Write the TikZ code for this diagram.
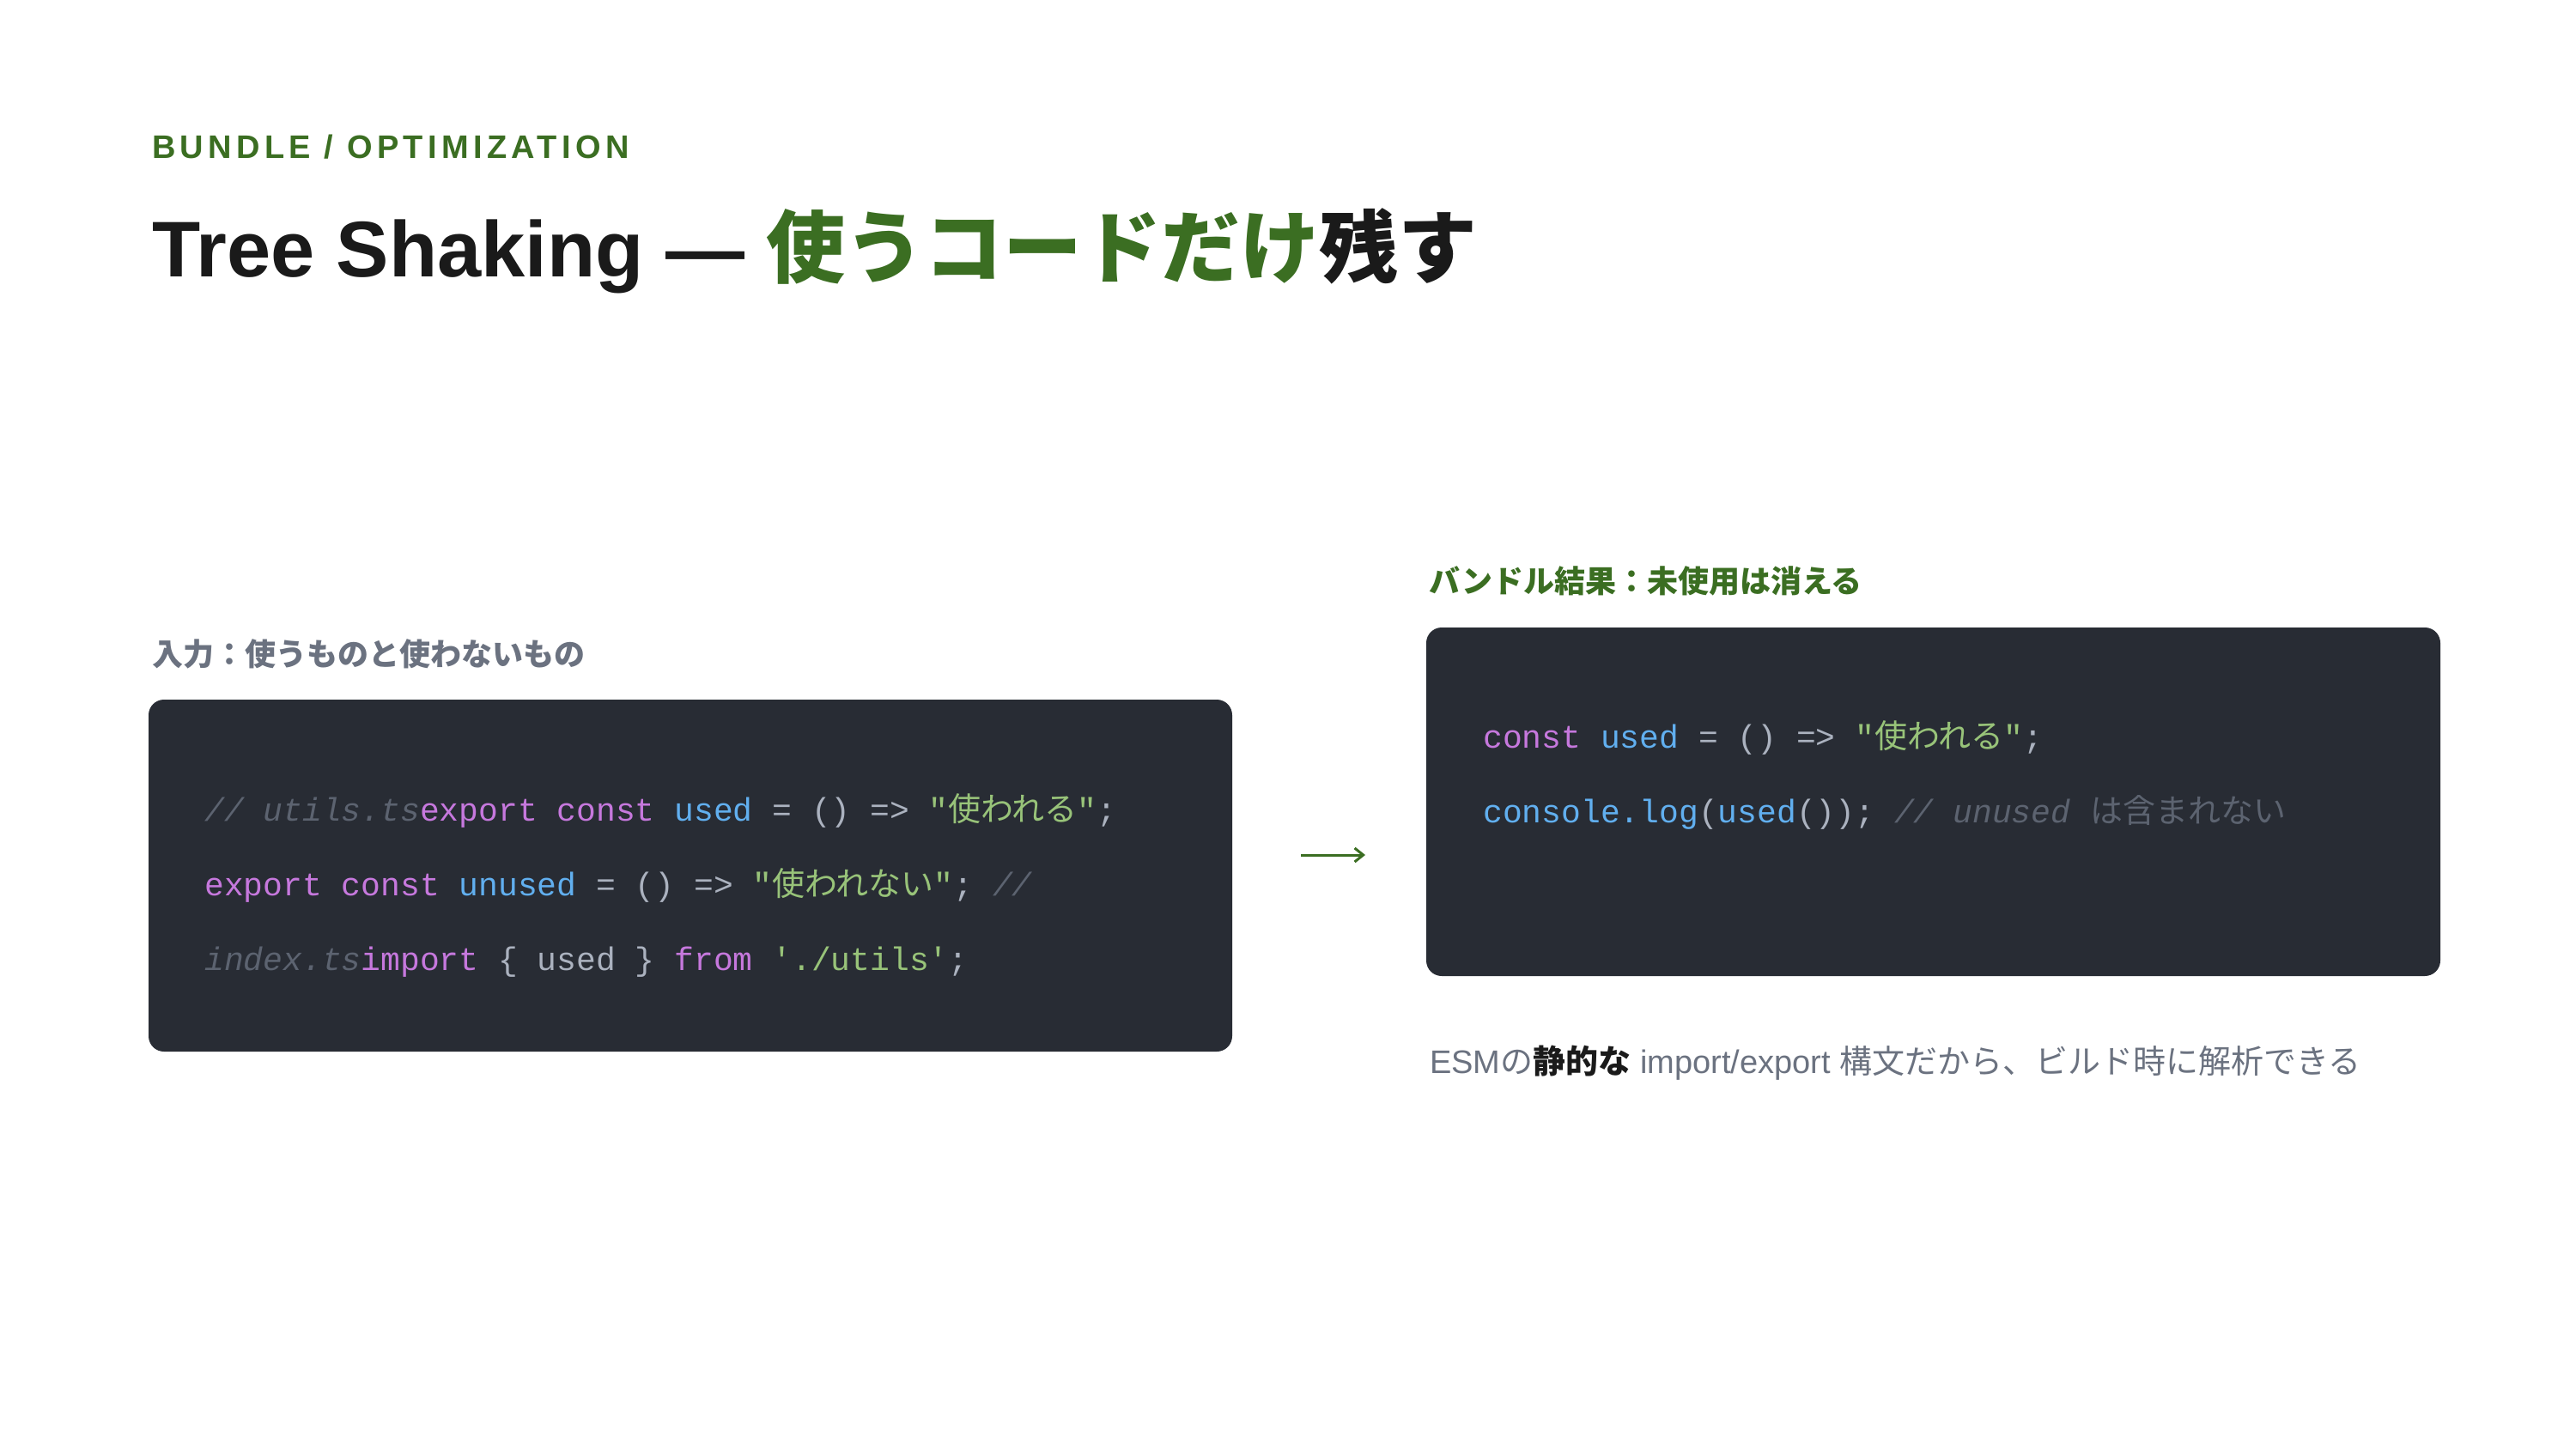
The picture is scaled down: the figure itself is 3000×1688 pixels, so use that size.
\documentclass[tikz,border=0pt]{standalone}
\usepackage{fontspec}
\setmainfont{Liberation Sans}
\newfontfamily\cjk{Noto Sans CJK JP}
\newfontfamily\cjkb{Noto Sans CJK JP}[FakeBold=0]
\newfontfamily\mono{Liberation Mono}
\usetikzlibrary{arrows.meta}
\definecolor{bg}{HTML}{282C34}
\definecolor{kw}{HTML}{C678DD}
\definecolor{fn}{HTML}{61AFEF}
\definecolor{st}{HTML}{98C379}
\definecolor{cm}{HTML}{5C6370}
\definecolor{pl}{HTML}{ABB2BF}
\definecolor{acc}{HTML}{3B6E22}
\definecolor{ink}{HTML}{1A1A1A}
\definecolor{mut}{HTML}{6B7280}
\newcommand{\K}[1]{\textcolor{kw}{#1}}
\newcommand{\F}[1]{\textcolor{fn}{#1}}
\newcommand{\Sg}[1]{\textcolor{st}{#1}}
\newcommand{\C}[1]{\textcolor{cm}{\itshape #1}}
\newcommand{\J}[1]{{\cjk #1}}
\begin{document}
\begin{tikzpicture}[x=1pt,y=-1pt,
  box/.style={fill=bg,rounded corners=18pt,draw=none},
  code/.style={anchor=base west,inner sep=0,text=pl,font=\fontsize{38}{38}\mono},
  lab/.style={anchor=base west,inner sep=0}]
\useasboundingbox (0,0) rectangle (3000,1688);
\fill[white] (0,0) rectangle (3000,1688);
\node[lab,text=acc,font=\fontsize{38}{38}\bfseries\addfontfeature{LetterSpace=14}] (hdr) at (177,185) {BUNDLE / OPTIMIZATION};
\node[lab,text=ink,font=\fontsize{92}{92}\bfseries] (title) at (177,322) {Tree Shaking — \textcolor{acc}{\cjk\bfseries 使うコードだけ}{\cjk\bfseries 残す}};
\node[lab,text=mut,font=\fontsize{36}{36}\cjk\bfseries] (inl) at (177,775) {入力：使うものと使わないもの};
\node[lab,text=acc,font=\fontsize{36}{36}\cjk\bfseries] (outl) at (1664,690) {バンドル結果：未使用は消える};
\path[box] (173,815) rectangle (1435,1225);
\path[box] (1661,731) rectangle (2842,1137);
\node[code] (l1) at (238,956) {\C{// utils.ts}\K{export const} \F{used} = () => \Sg{"\J{使われる}"};};
\node[code] (l2) at (238,1043) {\K{export const} \F{unused} = () => \Sg{"\J{使われない}"}; \C{//}};
\node[code] (l3) at (238,1130) {\C{index.ts}\K{import} \{ used \} \K{from} \Sg{'./utils'};};
\node[code] (r1) at (1727,871) {\K{const} \F{used} = () => \Sg{"\J{使われる}"};};
\node[code] (r2) at (1727,958) {\F{console.log}(\F{used}()); \C{// unused \J{は含まれない}}};
\coordinate (a1) at (1515,996);
\coordinate (a2) at (1590,996);
\draw[acc,line width=3pt,-{Straight Barb[length=10pt,width=16pt]}] (a1) -- (a2);
\node[lab,text=mut,font=\fontsize{38}{38}\selectfont] (cap) at (1665,1250) {ESM\J{の}{\color{ink}\cjk\bfseries 静的な} import/export \J{構文だから、ビルド時に解析できる}};
\end{tikzpicture}
\end{document}
